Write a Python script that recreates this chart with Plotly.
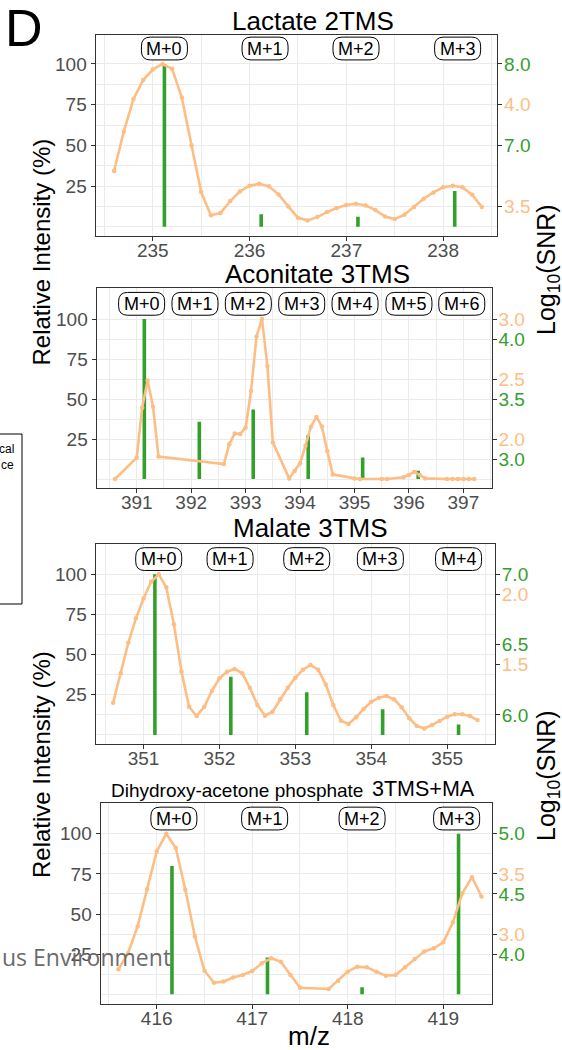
import plotly.graph_objects as go

W, H = 562, 1050
ORANGE = "#FDBE85"
GREEN = "#33A02C"
GRID = "#EBEBEB"
AXIS = "#333333"
TICKTXT = "#4D4D4D"
FONT = "Liberation Sans, Arial, sans-serif"

# ---------------- data ----------------
intensity_ticks = [25, 50, 75, 100]

# Lactate 2TMS
lactate_mz = [234.6, 234.7, 234.8, 234.9, 235.0, 235.1, 235.2, 235.3, 235.4, 235.5,
              235.6, 235.7, 235.8, 235.9, 236.0, 236.1, 236.2, 236.3, 236.4, 236.5,
              236.6, 236.7, 236.8, 236.9, 237.0, 237.1, 237.2, 237.3, 237.4, 237.5,
              237.6, 237.7, 237.8, 237.9, 238.0, 238.1, 238.2, 238.3, 238.4]
lactate_intensity = [34.2, 58.4, 78.4, 90.1, 96.6, 100, 97, 79.4, 50, 21.3,
                     7, 8.4, 15.8, 21.7, 25.2, 26.4, 24.8, 19.8, 12.5, 5.5,
                     3.9, 5.9, 9, 11.5, 13.3, 14.1, 13.1, 10.2, 6.3, 4.7,
                     7.4, 12.1, 17.2, 21.1, 24.2, 25.2, 24.2, 19.7, 12.1]
lactate_peak_mz = [235.12, 236.12, 237.12, 238.12]
lactate_peak_snr = [100, 7.6, 6.1, 21.9]
lactate_labels = ["M+0", "M+1", "M+2", "M+3"]
lactate_label_mz = [235.12, 236.16, 237.10, 238.15]
lactate_mz_ticks = [235, 236, 237, 238]
lactate_orange_ticks = [75, 12.5]
lactate_orange_text = ["4.0", "3.5"]
lactate_green_ticks = [100, 50]
lactate_green_text = ["8.0", "7.0"]

# Aconitate 3TMS
aconitate_mz = [390.6, 391.0, 391.1, 391.2, 391.3, 391.4, 392.6, 392.7, 392.8, 392.9,
                393.0, 393.1, 393.2, 393.3, 393.4, 393.5, 393.8, 393.9, 394.0, 394.1,
                394.2, 394.3, 394.4, 394.5, 394.6, 395.0, 395.1, 395.5, 395.6, 395.9,
                396.0, 396.1, 396.2, 396.3, 396.7, 396.8, 396.9, 397.0, 397.1, 397.2]
aconitate_intensity = [0, 13.3, 44.6, 61.5, 45.2, 14, 9.4, 21.7, 28.5, 28.1,
                       32.1, 55, 89, 100, 70.6, 22.9, 0.4, 5, 9.8, 20.8,
                       32.7, 38.8, 32.9, 17.5, 2.9, 0.4, 0, 0, 0, 1.1,
                       2.5, 4.4, 2.5, 0.4, 0, 0, 0, 0, 0, 0]
aconitate_peak_mz = [391.14, 392.15, 393.14, 394.15, 395.15, 396.17]
aconitate_peak_snr = [100, 35.8, 43.5, 27.5, 13.5, 5.2]
aconitate_labels = ["M+0", "M+1", "M+2", "M+3", "M+4", "M+5", "M+6"]
aconitate_label_mz = [391.09, 392.07, 393.05, 394.03, 395.01, 396.00, 396.97]
aconitate_mz_ticks = [391, 392, 393, 394, 395, 396, 397]
aconitate_orange_ticks = [100, 62.5, 25]
aconitate_orange_text = ["3.0", "2.5", "2.0"]
aconitate_green_ticks = [87.5, 50, 12.5]
aconitate_green_text = ["4.0", "3.5", "3.0"]

# Malate 3TMS
malate_mz = [350.6, 350.7, 350.8, 350.9, 351.0, 351.1, 351.2, 351.3, 351.4, 351.5,
             351.6, 351.7, 351.8, 351.9, 352.0, 352.1, 352.2, 352.3, 352.4, 352.5,
             352.6, 352.7, 352.8, 352.9, 353.0, 353.1, 353.2, 353.3, 353.4, 353.5,
             353.6, 353.7, 353.8, 353.9, 354.0, 354.1, 354.2, 354.3, 354.4, 354.5,
             354.6, 354.7, 354.8, 354.9, 355.0, 355.1, 355.2, 355.3, 355.4]
malate_intensity = [20.1, 38.4, 57.4, 72.6, 85, 95.4, 100, 91.9, 68.9, 39.4,
                    17.6, 11.8, 17.6, 27.4, 35.3, 39.4, 41.1, 38.4, 29.4, 18.7,
                    12, 14.5, 22.2, 29.4, 35.7, 40.6, 43.6, 40.6, 31.5, 18.7,
                    8.9, 6.8, 11, 16.2, 20.7, 23.2, 24.3, 22.2, 17.2, 10.4,
                    5.6, 4.1, 6.2, 8.7, 11.4, 12.9, 12.9, 11.8, 9.3]
malate_peak_mz = [351.15, 352.15, 353.15, 354.15, 355.15]
malate_peak_snr = [100, 36.3, 26.6, 16, 6.6]
malate_labels = ["M+0", "M+1", "M+2", "M+3", "M+4"]
malate_label_mz = [351.20, 352.14, 353.15, 354.12, 355.15]
malate_mz_ticks = [351, 352, 353, 354, 355]
malate_orange_ticks = [87.5, 43.75]
malate_orange_text = ["2.0", "1.5"]
malate_green_ticks = [100, 56.25, 12.5]
malate_green_text = ["7.0", "6.5", "6.0"]

# Dihydroxy-acetone phosphate 3TMS+MA
dhap_mz = [415.6, 415.7, 415.8, 415.9, 416.0, 416.1, 416.2, 416.3, 416.4, 416.5,
           416.6, 416.7, 416.8, 416.9, 417.0, 417.1, 417.2, 417.3, 417.4, 417.5,
           417.8, 417.9, 418.0, 418.1, 418.2, 418.3, 418.4, 418.5, 418.6, 418.7,
           418.8, 418.9, 419.0, 419.1, 419.2, 419.3, 419.4]
dhap_intensity = [15.6, 25.6, 42.2, 65.5, 89, 100, 91.1, 65.1, 36, 14.7,
                  7.2, 7.9, 10.4, 12, 14.5, 19.3, 22.5, 20.3, 12, 4.1,
                  3.3, 8.5, 14.1, 17.2, 16.8, 14.1, 11.6, 12, 16.8, 22,
                  26.6, 28.7, 32.4, 44.7, 63, 73, 60.9]
dhap_peak_mz = [416.16, 417.16, 418.15, 419.16]
dhap_peak_snr = [80, 22.9, 4.4, 100]
dhap_labels = ["M+0", "M+1", "M+2", "M+3"]
dhap_label_mz = [416.18, 417.13, 418.15, 419.14]
dhap_mz_ticks = [416, 417, 418, 419]
dhap_orange_ticks = [75, 37.5]
dhap_orange_text = ["3.5", "3.0"]
dhap_green_ticks = [100, 62.5, 25]
dhap_green_text = ["5.0", "4.5", "4.0"]

LABEL_Y = 109.5

# ---------------- layout geometry (pixels) ----------------
panels = [
    dict(mz=lactate_mz, inten=lactate_intensity, pmz=lactate_peak_mz, psnr=lactate_peak_snr,
         labs=lactate_labels, labmz=lactate_label_mz, xt=lactate_mz_ticks,
         ot=lactate_orange_ticks, otx=lactate_orange_text, gt=lactate_green_ticks, gtx=lactate_green_text,
         box=(95.7, 35, 497.3, 236), xr=(234.41, 238.56), yr=(-5.7, 117.8)),
    dict(mz=aconitate_mz, inten=aconitate_intensity, pmz=aconitate_peak_mz, psnr=aconitate_peak_snr,
         labs=aconitate_labels, labmz=aconitate_label_mz, xt=aconitate_mz_ticks,
         ot=aconitate_orange_ticks, otx=aconitate_orange_text, gt=aconitate_green_ticks, gtx=aconitate_green_text,
         box=(96.7, 288.3, 491.7, 488.3), xr=(390.265, 397.52), yr=(-5.8, 119.2)),
    dict(mz=malate_mz, inten=malate_intensity, pmz=malate_peak_mz, psnr=malate_peak_snr,
         labs=malate_labels, labmz=malate_label_mz, xt=malate_mz_ticks,
         ot=malate_orange_ticks, otx=malate_orange_text, gt=malate_green_ticks, gtx=malate_green_text,
         box=(95.7, 544.3, 495.0, 744.3), xr=(350.37, 355.63), yr=(-5.8, 118.7)),
    dict(mz=dhap_mz, inten=dhap_intensity, pmz=dhap_peak_mz, psnr=dhap_peak_snr,
         labs=dhap_labels, labmz=dhap_label_mz, xt=dhap_mz_ticks,
         ot=dhap_orange_ticks, otx=dhap_orange_text, gt=dhap_green_ticks, gtx=dhap_green_text,
         box=(100.7, 803.3, 491.7, 1004.0), xr=(415.414, 419.507), yr=(-6.05, 119.0)),
]


def PX(x):
    return x / W


def PY(y):
    return 1 - y / H


def pill(a=23, b=11.4, r=9):
    return (f"M {-a + r},{-b} L {a - r},{-b} Q {a},{-b} {a},{-b + r} L {a},{b - r} "
            f"Q {a},{b} {a - r},{b} L {-a + r},{b} Q {-a},{b} {-a},{b - r} "
            f"L {-a},{-b + r} Q {-a},{-b} {-a + r},{-b} Z")


fig = go.Figure()
layout = {}
shapes = []
annotations = []

tickfont = dict(size=19, color=TICKTXT, family=FONT)

for i, p in enumerate(panels):
    n = i + 1
    xs = "" if n == 1 else str(n)
    xname, yname = "x" + xs, "y" + xs
    yo, yg = f"y{4 + n}", f"y{8 + n}"
    l, t, r, b = p["box"]
    bw = 3.6 * (p["xr"][1] - p["xr"][0]) / (r - l)

    fig.add_trace(go.Bar(x=p["pmz"], y=p["psnr"], width=bw, xaxis=xname, yaxis=yname,
                         marker=dict(color=GREEN, line=dict(width=0)), hoverinfo="skip"))
    fig.add_trace(go.Scatter(x=p["mz"], y=p["inten"], xaxis=xname, yaxis=yname,
                             mode="lines+markers", line=dict(color=ORANGE, width=2.6),
                             marker=dict(color=ORANGE, size=4.5), hoverinfo="skip"))
    # empty traces so the right-hand (secondary) axes are drawn
    for ya in (yo, yg):
        fig.add_trace(go.Scatter(x=[], y=[], xaxis=xname, yaxis=ya, hoverinfo="skip"))

    layout["xaxis" + xs] = dict(
        domain=[PX(l), PX(r)], anchor=yname, range=list(p["xr"]),
        tickmode="array", tickvals=p["xt"], ticks="outside", ticklen=4, tickwidth=1.1,
        tickcolor=AXIS, tickfont=tickfont, ticklabelstandoff=-7,
        showline=True, mirror=True, linecolor=AXIS,
        linewidth=1.3, showgrid=True, gridcolor=GRID, gridwidth=1.1, zeroline=False,
        minor=dict(tickmode="linear", tick0=0.5, dtick=1, showgrid=True, gridcolor=GRID,
                   gridwidth=0.6, ticks=""),
        automargin=False, fixedrange=True)
    layout["yaxis" + xs] = dict(
        domain=[PY(b), PY(t)], anchor=xname, range=list(p["yr"]),
        tickmode="array", tickvals=intensity_ticks, ticks="outside", ticklen=4, tickwidth=1.1,
        tickcolor=AXIS, tickfont=tickfont, showline=True, mirror=True, linecolor=AXIS,
        linewidth=1.3, showgrid=True, gridcolor=GRID, gridwidth=1.1, zeroline=False,
        minor=dict(tickmode="array", tickvals=[0, 12.5, 37.5, 62.5, 87.5], showgrid=True,
                   gridcolor=GRID, gridwidth=0.6, ticks=""),
        automargin=False, fixedrange=True)
    for ya, tv, tt, col in ((yo, p["ot"], p["otx"], ORANGE), (yg, p["gt"], p["gtx"], GREEN)):
        layout["yaxis" + ya[1:]] = dict(
            overlaying=yname, anchor=xname, side="right", range=list(p["yr"]),
            tickmode="array", tickvals=tv, ticktext=tt, ticks="outside", ticklen=4,
            tickwidth=1.1, tickcolor=AXIS, tickfont=dict(size=19, color=col, family=FONT),
            ticklabelstandoff=-2,
            showgrid=False, zeroline=False, showline=False, automargin=False, fixedrange=True)

    for lx, lt in zip(p["labmz"], p["labs"]):
        shapes.append(dict(type="path", xref=xname, yref=yname, xsizemode="pixel",
                           ysizemode="pixel", xanchor=lx, yanchor=LABEL_Y, path=pill(),
                           line=dict(color="black", width=1), fillcolor="white", layer="above"))
        annotations.append(dict(x=lx, y=LABEL_Y, xref=xname, yref=yname, text=lt,
                                showarrow=False, font=dict(size=18, color="black", family=FONT),
                                xanchor="center", yanchor="middle"))


def text(x, y, s, size, color="black", angle=0, xanchor="center", family=FONT):
    annotations.append(dict(x=PX(x), y=PY(y), xref="paper", yref="paper", text=s,
                            showarrow=False, textangle=angle, xanchor=xanchor,
                            yanchor="middle", font=dict(size=size, color=color, family=family)))


# titles
text(312.5, 21, "Lactate 2TMS", 26)
text(317.5, 274, "Aconitate 3TMS", 26)
text(310.8, 528, "Malate 3TMS", 26)
text(237.2, 790, "Dihydroxy-acetone phosphate", 19)
text(423.3, 789, "3TMS+MA", 21.5)

# axis titles
text(41, 252.5, "Relative Intensity (%)", 24, angle=-90)
text(41, 765, "Relative Intensity (%)", 24, angle=-90)
text(548, 270, "Log<sub>10</sub>(SNR)", 25, angle=-90)
text(548, 776, "Log<sub>10</sub>(SNR)", 25, angle=-90)
text(309, 1036, "m/z", 26)

# panel letter
text(3, 28, "D", 52, xanchor="left")

# clipped legend fragment at the left edge
shapes.append(dict(type="rect", xref="paper", yref="paper", x0=PX(-3), x1=PX(22),
                   y0=PY(604), y1=PY(434), line=dict(color="black", width=1),
                   fillcolor="white", layer="above"))
text(16, 449, "cal", 12, xanchor="right")
text(16, 465, "ce", 12, xanchor="right")

# overlaid watermark text
text(0, 957, "us Environment", 23, color="#6B6B6B", xanchor="left",
     family="Open Sans, Noto Sans, sans-serif")

layout.update(dict(
    width=W, height=H, margin=dict(l=0, r=0, t=0, b=0), autosize=False,
    paper_bgcolor="white", plot_bgcolor="white", showlegend=False,
    barmode="overlay", shapes=shapes, annotations=annotations,
    font=dict(family=FONT),
))
fig.update_layout(**layout)
fig.write_html("out.html", config={"displayModeBar": False})
